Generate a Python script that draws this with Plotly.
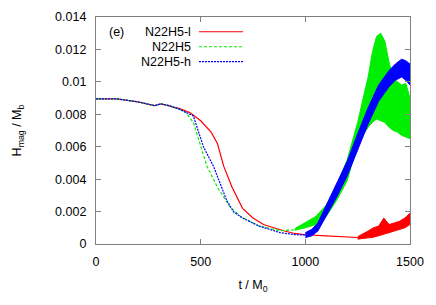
import plotly.graph_objects as go

# ---- data ----
red_t = [0, 100, 200, 280, 310, 350, 400, 450, 500, 550, 580, 610, 650, 700, 750, 800, 850, 900, 950, 1000, 1100, 1200, 1250]
red_v = [0.00895, 0.00895, 0.00877, 0.00853, 0.00864, 0.00853, 0.00835, 0.0081, 0.0076, 0.0069, 0.0062, 0.0048, 0.0035, 0.0022, 0.0016, 0.0012, 0.0010, 0.0008, 0.00065, 0.00057, 0.0005, 0.00042, 0.0004]
red_band_t = [1250, 1275, 1300, 1325, 1350, 1375, 1400, 1425, 1450, 1475, 1500]
red_band_lo = [0.0003, 0.00032, 0.00038, 0.00042, 0.0005, 0.0006, 0.0007, 0.0008, 0.0009, 0.0010, 0.0012]
red_band_hi = [0.00045, 0.0006, 0.0008, 0.0010, 0.0011, 0.0016, 0.0012, 0.0013, 0.0014, 0.0016, 0.0019]

green_t = [0, 100, 200, 280, 310, 350, 400, 430, 465, 500, 530, 580, 640, 690, 780, 880, 950]
green_v = [0.00895, 0.00895, 0.00877, 0.00853, 0.00864, 0.00853, 0.0083, 0.0081, 0.0075, 0.0060, 0.0048, 0.0035, 0.0023, 0.0017, 0.0011, 0.00082, 0.00088]
green_band_t = [950, 1000, 1050, 1100, 1150, 1200, 1250, 1280, 1300, 1320, 1340, 1360, 1380, 1400, 1420, 1440, 1460, 1480, 1500]
green_band_lo = [0.00085, 0.0010, 0.0012, 0.0017, 0.0027, 0.0039, 0.0062, 0.0068, 0.0072, 0.0075, 0.0077, 0.0076, 0.0075, 0.0072, 0.0070, 0.0069, 0.0067, 0.0066, 0.0065]
green_band_hi = [0.00095, 0.0013, 0.0017, 0.0024, 0.0036, 0.0052, 0.0075, 0.0092, 0.0103, 0.0118, 0.0128, 0.0130, 0.0125, 0.0112, 0.0102, 0.0100, 0.0098, 0.0099, 0.0090]

blue_t = [0, 100, 200, 280, 310, 350, 400, 430, 465, 513, 561, 624, 656, 700, 780, 880, 950, 1000]
blue_v = [0.00895, 0.00895, 0.00877, 0.00853, 0.00864, 0.00853, 0.0083, 0.0081, 0.0079, 0.0060, 0.0048, 0.0027, 0.0020, 0.0016, 0.0011, 0.0007, 0.00058, 0.00055]
blue_band_t = [1000, 1030, 1060, 1100, 1150, 1200, 1250, 1300, 1350, 1400, 1430, 1460, 1480, 1500]
blue_band_lo = [0.0004, 0.0005, 0.0008, 0.0017, 0.0029, 0.0042, 0.0058, 0.0074, 0.0088, 0.0097, 0.0101, 0.0103, 0.0101, 0.0098]
blue_band_hi = [0.0007, 0.0009, 0.0013, 0.0024, 0.0038, 0.0051, 0.0068, 0.0084, 0.0098, 0.0107, 0.0111, 0.0114, 0.0113, 0.0111]

x_ticks = [0, 500, 1000, 1500]
x_tick_text = ["0", "500", "1000", "1500"]
y_ticks = [0, 0.002, 0.004, 0.006, 0.008, 0.010, 0.012, 0.014]
y_tick_text = ["0", "0.002", "0.004", "0.006", "0.008", "0.01", "0.012", "0.014"]

series = [
    ("N22H5-l", "#ff0000", "solid", red_t, red_v, red_band_t, red_band_lo, red_band_hi),
    ("N22H5", "#00ee00", "3px,2px", green_t, green_v, green_band_t, green_band_lo, green_band_hi),
    ("N22H5-h", "#0000ff", "2px,1px", blue_t, blue_v, blue_band_t, blue_band_lo, blue_band_hi),
]

FONT = "Liberation Sans, Arial, sans-serif"
fig = go.Figure()
for name, col, dash, t, v, bt, lo, hi in series:
    fig.add_trace(go.Scatter(x=t, y=v, mode="lines", line=dict(color=col, width=1.2, dash=dash),
                             showlegend=False, hoverinfo="skip"))
    fig.add_trace(go.Scatter(x=bt, y=lo, mode="lines", line=dict(color=col, width=1),
                             showlegend=False, hoverinfo="skip"))
    fig.add_trace(go.Scatter(x=bt, y=hi, mode="lines", line=dict(color=col, width=1),
                             fill="tonexty", fillcolor=col, showlegend=False, hoverinfo="skip"))

# gnuplot-style key: text right-aligned, sample line to the right
key_y = [0.935, 0.869, 0.803]
for (name, col, dash, *_), ky in zip(series, key_y):
    fig.add_annotation(xref="paper", yref="paper", x=0.309, y=ky, text=name, showarrow=False,
                       xanchor="right", yanchor="middle", font=dict(family=FONT, size=12.5, color="#000"))
    fig.add_shape(type="line", xref="paper", yref="paper", x0=0.328, x1=0.468, y0=ky, y1=ky,
                  line=dict(color=col, width=1.2, dash=dash))
fig.add_annotation(xref="paper", yref="paper", x=0.035, y=0.935, text="(e)", showarrow=False,
                   xanchor="left", yanchor="middle", font=dict(family=FONT, size=12.5, color="#000"))

axis_common = dict(showline=True, linecolor="#808080", linewidth=1.2, mirror="ticks",
                   ticks="inside", ticklen=5, tickcolor="#808080", showgrid=False, zeroline=False,
                   automargin=False, tickfont=dict(family=FONT, size=12.5, color="#000"))
fig.update_xaxes(range=[0, 1500], tickvals=x_ticks, ticktext=x_tick_text,
                 title=dict(text="t / M<sub>0</sub>", font=dict(family=FONT, size=12.5, color="#000"), standoff=12),
                 ticklabelstandoff=6, **axis_common)
fig.update_yaxes(range=[0, 0.014], tickvals=y_ticks, ticktext=y_tick_text,
                 title=dict(text="H<sub>mag</sub> / M<sub>b</sub>", font=dict(family=FONT, size=12.5, color="#000"), standoff=30),
                 ticklabelstandoff=6, **axis_common)
# page body adds an 8px offset, so the figure is sized to keep the plot area where the reference has it
fig.update_layout(width=428, height=297, margin=dict(l=88, r=26, t=9, b=61),
                  plot_bgcolor="white", paper_bgcolor="white", showlegend=False)
fig.write_html("out.html")
